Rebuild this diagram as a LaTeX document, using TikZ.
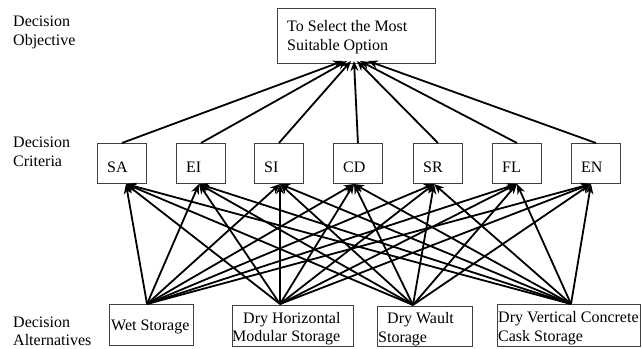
\documentclass[tikz,border=0pt]{standalone}
\usepackage{fontspec}
\setmainfont{Liberation Serif}
\usetikzlibrary{arrows.meta}
\begin{document}
\begin{tikzpicture}[x=1pt,y=-1pt,
  every node/.style={font=\fontsize{16}{19}\selectfont, inner sep=0pt},
  box/.style={draw=black!75, line width=0.9pt, anchor=north west},
  crit/.style={box, minimum width=49pt, minimum height=40pt},
  lbl/.style={anchor=base west},
  arr/.style={line width=1.8pt, -{Stealth[length=10pt,width=8pt]}},
]
\useasboundingbox (0,0) rectangle (642,348);

% left labels
\node[lbl] (l1a) at (13,27) {Decision};
\node[lbl] (l1b) at (13,45) {Objective};
\node[lbl] (l2a) at (13,147) {Decision};
\node[lbl] (l2b) at (13,166) {Criteria};
\node[lbl] (l3a) at (13,327) {Decision};
\node[lbl] (l3b) at (13,345) {Alternatives};

% objective
\node[box, minimum width=158pt, minimum height=55pt] (obj) at (277,8) {};
\node[lbl] (objt1) at (287,31) {To Select the Most};
\node[lbl] (objt2) at (287,50) {Suitable Option};

% criteria
\foreach \n/\x in {SA/97,EI/176,SI/254,CD/333,SR/413,FL/492,EN/571}{
  \node[crit] (\n) at (\x,143) {};
  \node[lbl] (t\n) at (\x+10,172) {\n};
}

% alternatives
\node[box, minimum width=84pt, minimum height=41pt] (alt1) at (109,304) {};
\node[lbl] (a1t) at (111,330) {Wet Storage};
\node[box, minimum width=121pt, minimum height=41pt] (alt2) at (232,305) {};
\node[lbl] (a2t1) at (243,323) {Dry Horizontal};
\node[lbl] (a2t2) at (232,341) {Modular Storage};
\node[box, minimum width=95pt, minimum height=40pt] (alt3) at (377,306) {};
\node[lbl] (a3t1) at (387,323) {Dry Wault};
\node[lbl] (a3t2) at (378,342) {Storage};
\node[box, minimum width=143pt, minimum height=42pt] (alt4) at (497,304) {};
\node[lbl] (a4t1) at (498,322) {Dry Vertical Concrete};
\node[lbl] (a4t2) at (498,341) {Cask Storage};

% source points of alternatives
\coordinate (sW) at (147,304);
\coordinate (sH) at (280,304);
\coordinate (sD) at (413,305);
\coordinate (sV) at (571,304);

% target points under criteria
\coordinate (bSA) at (126,184);
\coordinate (bEI) at (199,184);
\coordinate (bSI) at (280,184);
\coordinate (bCD) at (354,184);
\coordinate (bSR) at (434,184);
\coordinate (bFL) at (517,184);
\coordinate (bEN) at (591,184);

% target points under objective
\coordinate (oSA) at (343,61);
\coordinate (oEI) at (347,61);
\coordinate (oSI) at (351,61);
\coordinate (oCD) at (354,61);
\coordinate (oSR) at (357,61);
\coordinate (oFL) at (360,61);
\coordinate (oEN) at (368,61);

\foreach \n in {SA,EI,SI,CD,SR,FL,EN}{
  \draw[arr] (\n.north) -- (o\n);
  \foreach \s in {sW,sH,sD,sV}{
    \draw[arr] (\s) -- (b\n);
  }
}
\end{tikzpicture}
\end{document}
